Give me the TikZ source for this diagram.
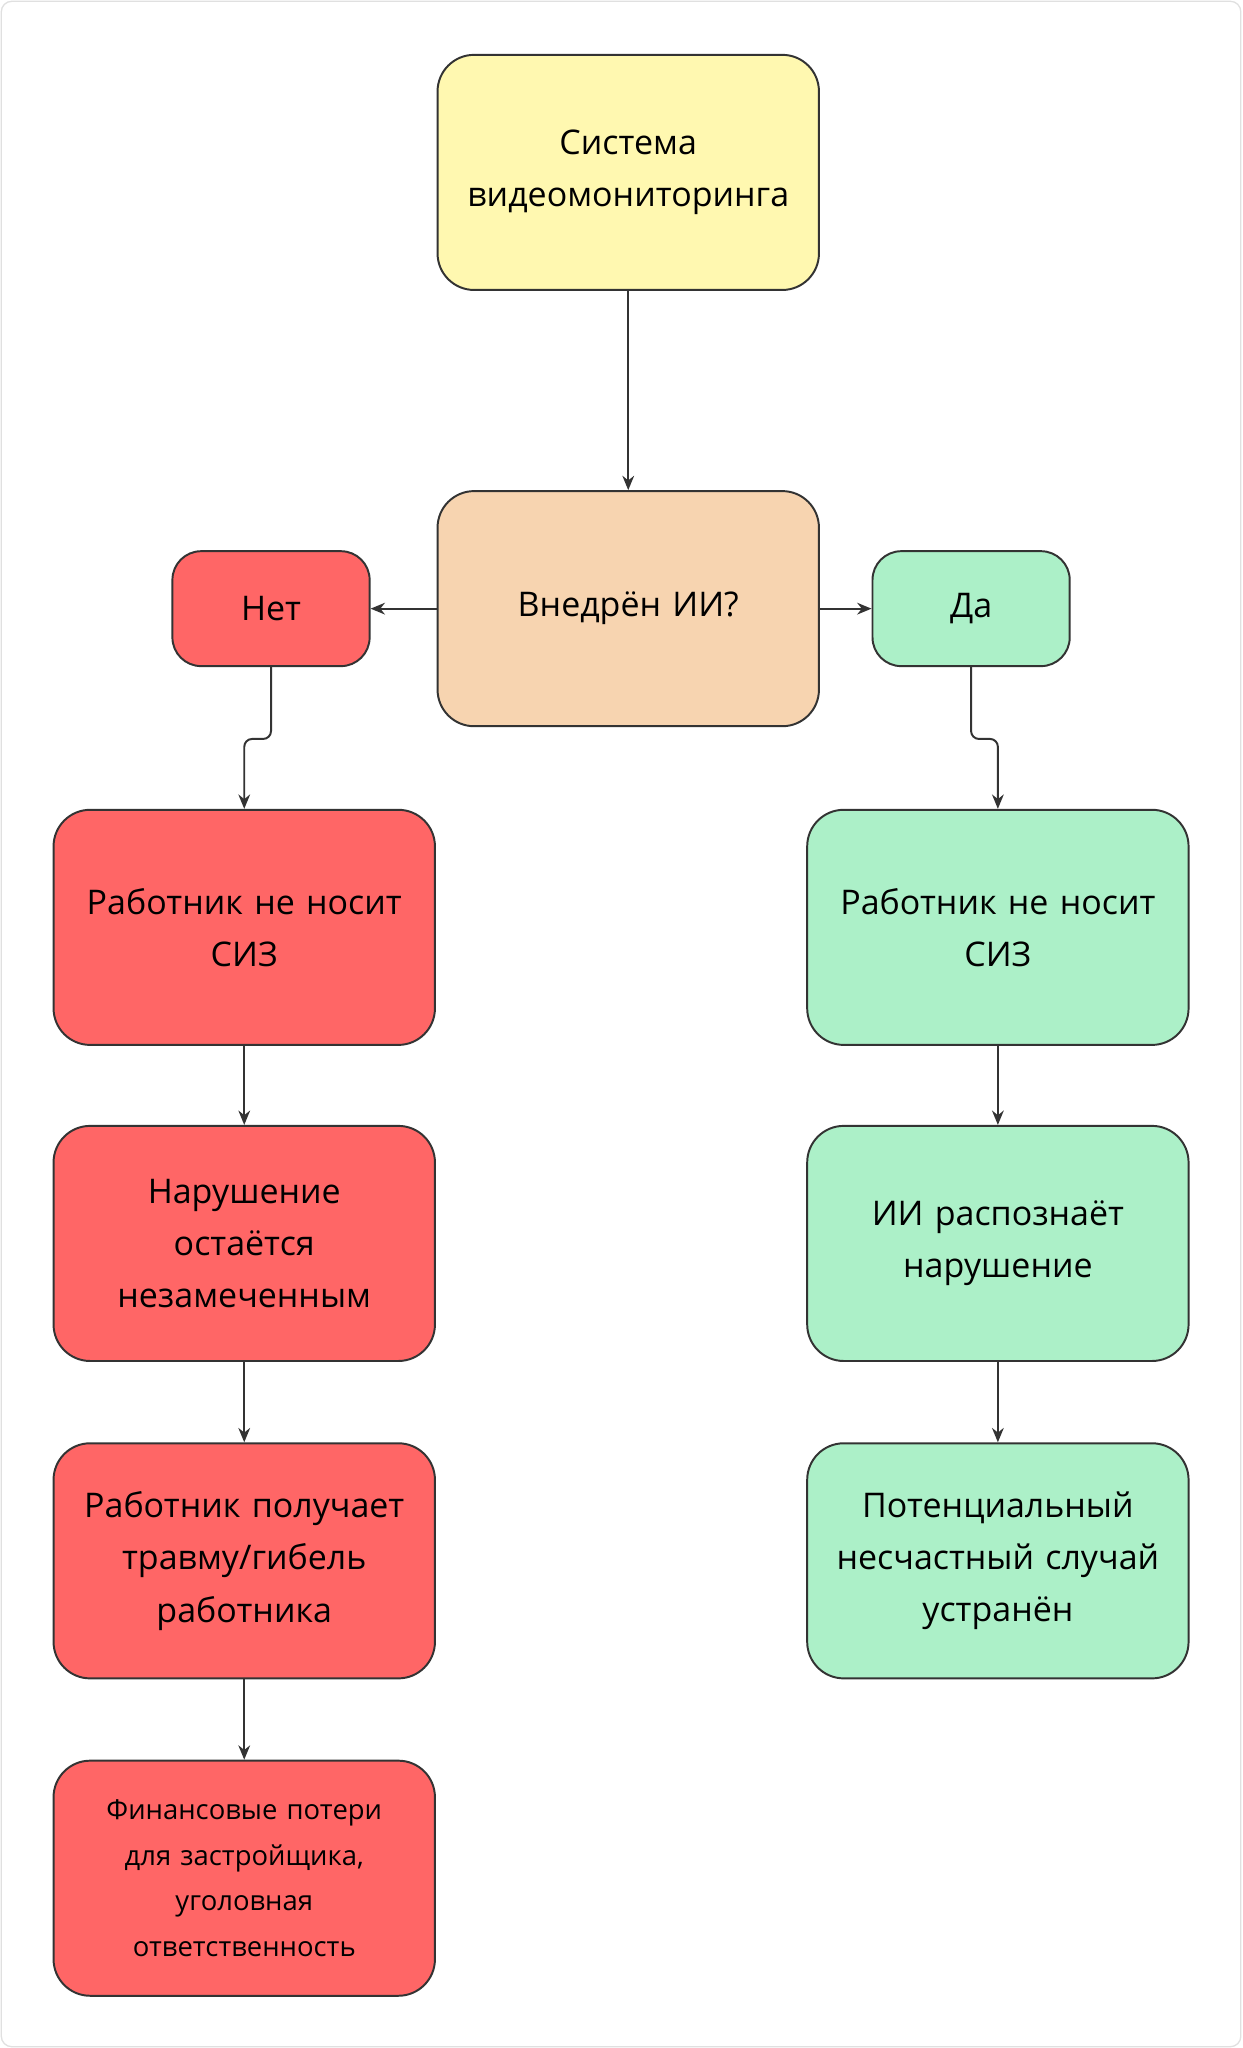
\documentclass[tikz,border=0pt]{standalone}
\usepackage{fontspec}
\setmainfont{Open Sans}
\usetikzlibrary{arrows.meta}
\definecolor{yel}{HTML}{FFF8B0}
\definecolor{ora}{HTML}{F7D4B0}
\definecolor{red}{HTML}{FF6666}
\definecolor{grn}{HTML}{ACF0C8}
\definecolor{ln}{HTML}{333333}
\begin{document}
\begin{tikzpicture}[x=1pt,y=-1pt,
 box/.style={draw=ln,line width=1.5pt,rounded corners=28pt,minimum width=292pt,minimum height=180pt,align=center,text width=280pt,font=\fontsize{26}{40}\selectfont,inner sep=0pt},
 small/.style={draw=ln,line width=1.5pt,rounded corners=22pt,minimum width=151pt,minimum height=88pt,align=center,font=\fontsize{26}{36}\selectfont},
 ar/.style={draw=ln,line width=1.5pt,-{Stealth[length=11pt,width=9pt]},rounded corners=6pt}]
\draw[draw=black!12,line width=1pt,rounded corners=8pt,fill=white] (1,1) rectangle (950,1567);
\useasboundingbox (0,0) rectangle (951,1568);
\node[box,fill=yel] (a) at (481,132) {Система\\видеомониторинга};
\node[box,fill=ora] (q) at (481,466) {Внедрён ИИ?};
\node[small,fill=red] (no) at (207.5,466) {Нет};
\node[small,fill=grn] (yes) at (743.5,466) {Да};
\node[box,fill=red] (l1) at (187,710) {Работник не носит\\СИЗ};
\node[box,fill=red] (l2) at (187,952) {Нарушение\\остаётся\\незамеченным};
\node[box,fill=red] (l3) at (187,1195) {Работник получает\\травму/гибель\\работника};
\node[box,fill=red,font=\fontsize{21}{35}\selectfont] (l4) at (187,1438) {Финансовые потери\\для застройщика,\\уголовная\\ответственность};
\node[box,fill=grn] (r1) at (764,710) {Работник не носит\\СИЗ};
\node[box,fill=grn] (r2) at (764,952) {ИИ распознаёт\\нарушение};
\node[box,fill=grn] (r3) at (764,1195) {Потенциальный\\несчастный случай\\устранён};
\draw[ar] (a) -- (q);
\draw[ar] (q) -- (no);
\draw[ar] (q) -- (yes);
\draw[ar] (no.south) -- ++(0,55) -| (l1.north);
\draw[ar] (yes.south) -- ++(0,55) -| (r1.north);
\draw[ar] (l1) -- (l2);
\draw[ar] (l2) -- (l3);
\draw[ar] (l3) -- (l4);
\draw[ar] (r1) -- (r2);
\draw[ar] (r2) -- (r3);
\end{tikzpicture}
\end{document}
